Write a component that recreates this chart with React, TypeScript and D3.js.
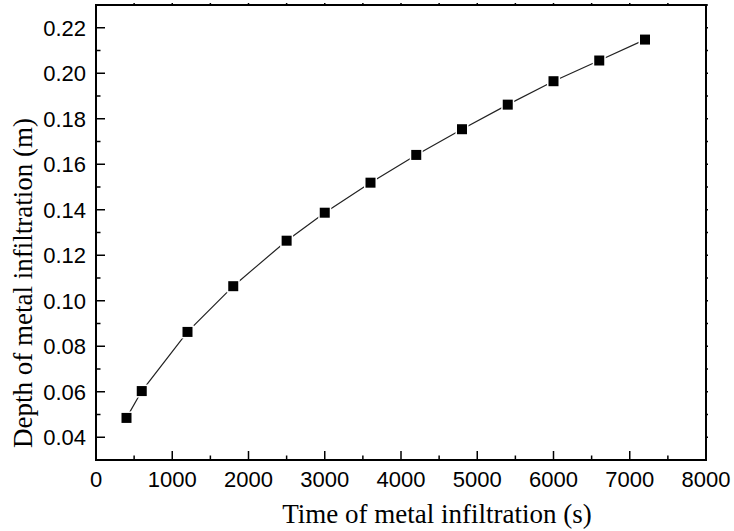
import * as d3 from 'd3';
import React, { useEffect, useRef } from 'react';

const times = [400, 600, 1200, 1800, 2500, 3000, 3600, 4200, 4800, 5400, 6000, 6600, 7200];
const depths = [0.0485, 0.0603, 0.0863, 0.1064, 0.1264, 0.1387, 0.1519, 0.1641, 0.1754, 0.1862, 0.1965, 0.2056, 0.2148];
const xTicks = [0, 1000, 2000, 3000, 4000, 5000, 6000, 7000, 8000];
const yTicks = [0.04, 0.06, 0.08, 0.1, 0.12, 0.14, 0.16, 0.18, 0.2, 0.22];

const W = 734;
const H = 531;
const margin = { left: 96, right: 28, top: 5, bottom: 71 };

export default function App() {
  const ref = useRef<SVGSVGElement>(null);

  useEffect(() => {
    const svg = d3.select(ref.current);
    svg.selectAll('*').remove();

    const x = d3.scaleLinear().domain([0, 8000]).range([margin.left, W - margin.right]);
    const y = d3.scaleLinear().domain([0.03, 0.23]).range([H - margin.bottom, margin.top]);
    const [x0, x1] = x.range();
    const [y0, y1] = y.range();

    const xMinor = d3.range(500, 8000, 1000);
    const yMinor = d3.range(0.03, 0.231, 0.01).filter(v => !yTicks.some(t => Math.abs(t - v) < 1e-6));
    const yAll = d3.range(0.04, 0.231, 0.01);
    const xAll = d3.range(500, 8000, 500);

    const ticks = svg.append('g').attr('stroke', '#000').attr('stroke-width', 1.5);

    // bottom, inward
    ticks.selectAll('.xmaj').data(xTicks.slice(1, -1)).enter().append('line')
      .attr('x1', d => x(d)).attr('x2', d => x(d)).attr('y1', y0).attr('y2', y0 - 9);
    ticks.selectAll('.xmin').data(xMinor).enter().append('line')
      .attr('x1', d => x(d)).attr('x2', d => x(d)).attr('y1', y0).attr('y2', y0 - 4.5);
    // left, inward
    ticks.selectAll('.ymaj').data(yTicks).enter().append('line')
      .attr('x1', x0).attr('x2', x0 + 9).attr('y1', d => y(d)).attr('y2', d => y(d));
    ticks.selectAll('.ymin').data(yMinor).enter().append('line')
      .attr('x1', x0).attr('x2', x0 + 4.5).attr('y1', d => y(d)).attr('y2', d => y(d));
    // top and right, small outward
    ticks.selectAll('.xtop').data(xAll).enter().append('line')
      .attr('x1', d => x(d)).attr('x2', d => x(d)).attr('y1', y1).attr('y2', y1 - 2);
    ticks.selectAll('.yright').data(yAll).enter().append('line')
      .attr('x1', x1).attr('x2', x1 + 2).attr('y1', d => y(d)).attr('y2', d => y(d));

    svg.append('rect')
      .attr('x', x0).attr('y', y1)
      .attr('width', x1 - x0).attr('height', y0 - y1)
      .attr('fill', 'none').attr('stroke', '#000').attr('stroke-width', 2);

    // tick labels
    svg.append('g').selectAll('text').data(xTicks).enter().append('text')
      .attr('x', d => x(d)).attr('y', y0 + 27)
      .attr('text-anchor', 'middle')
      .attr('font-family', 'Liberation Sans, Arial, sans-serif')
      .attr('font-size', 22)
      .text(d => d);

    svg.append('g').selectAll('text').data(yTicks).enter().append('text')
      .attr('x', x0 - 10).attr('y', d => y(d) + 8)
      .attr('text-anchor', 'end')
      .attr('font-family', 'Liberation Sans, Arial, sans-serif')
      .attr('font-size', 22)
      .text(d => d3.format('.2f')(d));

    // axis titles
    svg.append('text')
      .attr('x', 437).attr('y', 523)
      .attr('text-anchor', 'middle')
      .attr('font-family', 'Liberation Serif, Times New Roman, serif')
      .attr('font-size', 27)
      .text('Time of metal infiltration (s)');

    svg.append('text')
      .attr('transform', 'translate(32,283) rotate(-90)')
      .attr('text-anchor', 'middle')
      .attr('font-family', 'Liberation Serif, Times New Roman, serif')
      .attr('font-size', 27)
      .text('Depth of metal infiltration (m)');

    const pts = times.map((t, i) => [t, depths[i]] as [number, number]);

    const line = d3.line<[number, number]>().x(d => x(d[0])).y(d => y(d[1]));
    svg.append('path')
      .datum(pts)
      .attr('d', line)
      .attr('fill', 'none')
      .attr('stroke', '#222')
      .attr('stroke-width', 1.2);

    const s = 10;
    svg.append('g').selectAll('rect').data(pts).enter().append('rect')
      .attr('x', d => x(d[0]) - s / 2)
      .attr('y', d => y(d[1]) - s / 2)
      .attr('width', s).attr('height', s)
      .attr('fill', '#000')
      .attr('stroke', '#fff')
      .attr('stroke-width', 3)
      .attr('paint-order', 'stroke');
  }, []);

  return (
    <svg
      ref={ref}
      width={W}
      height={H}
      style={{ position: 'absolute', left: 0, top: 0, background: '#fff' }}
    />
  );
}
